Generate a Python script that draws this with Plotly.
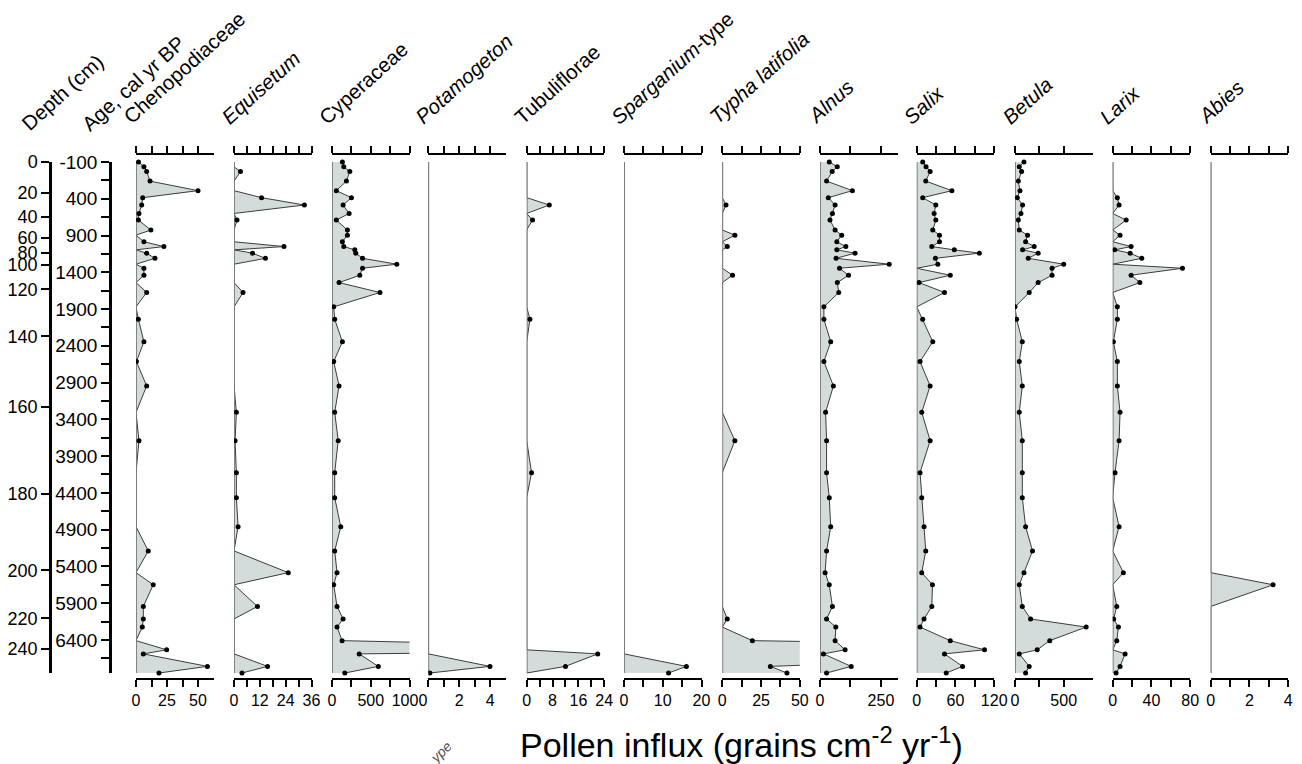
import plotly.graph_objects as go

# ---------------- data ----------------
AGES = [-100, -35, 30, 160, 290, 385, 485, 600, 690, 825, 895, 985, 1050, 1095,
        1140, 1210, 1290, 1345, 1440, 1540, 1675, 1870, 2040, 2345, 2615, 2945,
        3305, 3690, 4125, 4465, 4860, 5190, 5485, 5650, 5945, 6115, 6225, 6410,
        6535, 6590, 6760, 6850]

CHENOPODIACEAE = [2, 6.4, 8.6, 11.3, 50, 5.4, 4.6, 2.4, 1.9, 12, 0, 6.4, 22.5, 0,
                  8.6, 15.3, 0, 6.4, 6.4, 0, 8.6, 0, 1.9, 6.4, 0.3, 8.6, 0, 2.4,
                  0, 0, 0, 9.9, 0, 13.9, 5.9, 5.9, 5.1, 0, 24.7, 5.9, 57.6, 18.5]
EQUISETUM = [0, 0, 3.0, 0, 0, 12.8, 32.7, 0, 1.4, 0, 0, 0, 23.2, 0, 8.6, 14.6, 0,
             0, 0, 0, 4.2, 0, 0, 0, 0, 0, 1.1, 0.5, 1.1, 1.1, 1.9, 0, 25.2, 0,
             10.9, 0, 0, 0, 0, 0, 15.6, 3.7]
CYPERACEAE = [134, 152, 230, 186, 56, 251, 143, 221, 56, 199, 199, 134, 152, 294,
              307, 394, 836, 394, 359, 91, 619, 22, 35, 134, 22, 91, 35, 80, 35,
              35, 113, 35, 65, 22, 65, 143, 65, 130, 5500, 351, 598, 165]
POTAMOGETON = [0] * 40 + [3.98, 0.1]
TUBULIFLORAE = [0, 0, 0, 0, 0, 0, 7.0, 0, 1.8, 0, 0, 0, 0, 0, 0, 0, 0, 0, 0, 0,
                0, 0, 1.0, 0, 0, 0, 0, 0, 1.5, 0, 0, 0, 0, 0, 0, 0, 0, 0, 0, 22,
                12, 0]
SPARGANIUM = [0] * 40 + [16.1, 11.5]
TYPHA = [0, 0, 0, 0, 0, 0, 2.4, 0, 0, 0, 8.1, 0, 3.2, 0, 0, 0, 0, 0, 6.6, 0, 0,
         0, 0, 0, 0, 0, 0, 8.1, 0, 0, 0, 0, 0, 0, 0, 3.2, 0, 19.4, 400, 250, 31,
         41.7]
ALNUS = [38, 71, 50, 27, 133, 34, 62, 51, 41, 62, 89, 69, 106, 69, 144, 66, 284,
         80, 117, 71, 77, 16, 16, 44, 16, 55, 23, 27, 27, 38, 44, 27, 21, 38, 51,
         27, 65, 62, 103, 14, 128, 27]
SALIX = [9.3, 14.5, 20.8, 14, 54.5, 9.3, 29.6, 27, 29.6, 24.9, 35.3, 35.3, 23.4,
         58.2, 97, 29, 32.7, 0, 52, 3.6, 43, 0, 9.3, 24.9, 5.2, 20.8, 7.8, 20.8,
         5.2, 7.8, 11.4, 14, 7.8, 24.4, 23.4, 11.4, 5.2, 52, 105, 43, 71, 45.7]
BETULA = [92, 44, 68, 34, 51, 24, 78, 61, 34, 44, 129, 109, 197, 78, 238, 136,
          500, 381, 381, 238, 146, 1, 17, 75, 44, 75, 44, 75, 75, 75, 109, 180,
          92, 44, 75, 160, 731, 357, 228, 44, 146, 109]
LARIX = [0, 0, 0, 0, 0, 4.8, 6.6, 0, 13.9, 0, 7.6, 0, 19, 2, 18, 30, 0, 72, 19,
         28, 0, 4.8, 4.8, 0.7, 4.8, 4.8, 7.6, 6.6, 2.4, 0, 6.6, 0, 11, 0, 4.2, 1,
         5.9, 4.2, 0, 12.8, 7.6, 3.5]
ABIES = [0] * 33 + [3.22] + [0] * 8

TAXA = ['Chenopodiaceae', '<i>Equisetum</i>', 'Cyperaceae', '<i>Potamogeton</i>',
        'Tubuliflorae', '<i>Sparganium</i>-type', '<i>Typha latifolia</i>',
        '<i>Alnus</i>', '<i>Salix</i>', '<i>Betula</i>', '<i>Larix</i>', '<i>Abies</i>']
SERIES = [CHENOPODIACEAE, EQUISETUM, CYPERACEAE, POTAMOGETON, TUBULIFLORAE,
          SPARGANIUM, TYPHA, ALNUS, SALIX, BETULA, LARIX, ABIES]

X_MAX = [62.5, 36, 1000, 5, 24, 20, 50, 318, 120, 796, 80, 4]
# labelled ticks
X_TICKVALS = [[0, 25, 50], [0, 12, 24, 36], [0, 500, 1000], [2, 4],
              [0, 8, 16, 24], [0, 10, 20], [0, 25, 50], [0, 250], [0, 60, 120],
              [0, 500], [0, 40, 80], [0, 2, 4]]
X_TICKTEXT = [['0', '25', '50'], ['0', '12', '24', '36'], ['0', '500', '1000'],
              ['2', '4'], ['0', '8', '16', '24'], ['0', '10', '20'],
              ['0', '25', '50'], ['0', '250'], ['0', '60', '120'], ['0', '500'],
              ['0', '40', '80'], ['0', '2', '4']]
# unlabelled ticks
X_MINOR = [[12.5, 37.5], [6, 18, 30], [250, 750], [0, 1, 3], [4, 12, 20],
           [5, 15], [12.5, 37.5], [125], [30, 90], [250], [20, 60], [1, 3]]

DEPTH_LABELS = ['0', '20', '40', '60', '80', '100', '120', '140', '160', '180',
                '200', '220', '240']
DEPTH_TICK_AGES = [-100, 320, 645, 930, 1133, 1296, 1634, 2271, 3233, 4412,
                   5455, 6106, 6526]
AGE_TICKS = [-100, 400, 900, 1400, 1900, 2400, 2900, 3400, 3900, 4400, 4900,
             5400, 5900, 6400]
AGE_LABELS = ['-100', '400', '900', '1400', '1900', '2400', '2900', '3400',
              '3900', '4400', '4900', '5400', '5900', '6400']
AGE_MINOR = [150, 650, 1150, 1650, 2150, 2650, 3150, 3650, 4150, 4650, 5150,
             5650, 6150, 6650]

# ---------------- layout geometry ----------------
W, H = 1302, 764
PANEL_LEFT = [136, 234, 332, 428.3, 526.7, 624, 722.3, 820, 916.7, 1015, 1112.7, 1210.7]
PANEL_W = 77.5
Y_TOP_PX, Y_BOT_PX = 155, 678
DATA_TOP_PX, DATA_BOT_PX = 162, 673
AGE_TOP, AGE_BOT = -100, 6850
k = (DATA_BOT_PX - DATA_TOP_PX) / (AGE_BOT - AGE_TOP)
yr_top = AGE_TOP - (DATA_TOP_PX - Y_TOP_PX) / k
yr_bot = AGE_BOT + (Y_BOT_PX - DATA_BOT_PX) / k

FONT = 'Arial, Liberation Sans, Helvetica, sans-serif'
FILL = 'rgb(212,219,219)'
OUTLINE = 'rgb(60,60,60)'
BASE = 'rgb(120,120,120)'


def py(p):
    return (H - p) / H


fig = go.Figure()

for i, vals in enumerate(SERIES):
    xa = 'x' if i == 0 else f'x{i + 1}'
    fig.add_trace(go.Scatter(x=vals, y=AGES, mode='lines', fill='tozerox',
                             fillcolor=FILL, line=dict(color=OUTLINE, width=1),
                             xaxis=xa, yaxis='y', hoverinfo='skip', showlegend=False))
    fig.add_trace(go.Scatter(x=[0, 0], y=[AGES[0], AGES[-1]], mode='lines',
                             line=dict(color=BASE, width=1.8),
                             xaxis=xa, yaxis='y', hoverinfo='skip', showlegend=False))
    mx = [v for v in vals if v > 0]
    my = [a for a, v in zip(AGES, vals) if v > 0]
    fig.add_trace(go.Scatter(x=mx, y=my, mode='markers',
                             marker=dict(color='black', size=5),
                             xaxis=xa, yaxis='y', hoverinfo='skip', showlegend=False))

    key = 'xaxis' if i == 0 else f'xaxis{i + 1}'
    left = PANEL_LEFT[i]
    fig.update_layout({key: dict(
        domain=[left / W, (left + PANEL_W) / W], range=[0, X_MAX[i]], anchor='y',
        showline=True, linecolor='black', linewidth=2, mirror='ticks',
        ticks='outside', ticklen=7, tickwidth=1.6, tickcolor='black',
        tickmode='array', tickvals=X_TICKVALS[i], ticktext=X_TICKTEXT[i],
        tickangle=0, automargin=False,
        minor=dict(tickmode='array', tickvals=X_MINOR[i], ticks='outside',
                   ticklen=7, tickwidth=1.6, tickcolor='black', showgrid=False),
        tickfont=dict(family=FONT, size=16, color='black'),
        showgrid=False, zeroline=False, fixedrange=True)})

# dummy traces to carry the depth and age axes
fig.add_trace(go.Scatter(x=[0], y=[AGE_TOP], mode='markers', marker=dict(opacity=0),
                         xaxis='x13', yaxis='y2', hoverinfo='skip', showlegend=False))
fig.add_trace(go.Scatter(x=[0], y=[AGE_TOP], mode='markers', marker=dict(opacity=0),
                         xaxis='x13', yaxis='y3', hoverinfo='skip', showlegend=False))

left_axis_common = dict(
    domain=[py(DATA_BOT_PX), py(DATA_TOP_PX)], range=[AGE_BOT, AGE_TOP],
    anchor='free', side='left', showline=True, linecolor='black', linewidth=2.5,
    ticks='outside', ticklen=8, tickwidth=2, tickcolor='black', showgrid=False,
    zeroline=False, fixedrange=True, tickmode='array', automargin=False)

fig.update_layout(
    width=W, height=H, autosize=False,
    margin=dict(l=0, r=0, t=0, b=0, pad=0, autoexpand=False),
    paper_bgcolor='white', plot_bgcolor='rgba(0,0,0,0)',
    font=dict(family=FONT, color='black'),
    showlegend=False,
    yaxis=dict(domain=[py(Y_BOT_PX), py(Y_TOP_PX)], range=[yr_bot, yr_top],
               visible=False, fixedrange=True, anchor='x', automargin=False),
    xaxis13=dict(domain=[0, 0.05], visible=False, anchor='y2', range=[0, 1],
                 automargin=False),
    yaxis2=dict(left_axis_common, position=50 / W, tickvals=DEPTH_TICK_AGES,
                ticktext=DEPTH_LABELS, tickfont=dict(family=FONT, size=18)),
    yaxis3=dict(left_axis_common, position=110 / W, tickvals=AGE_TICKS,
                ticktext=AGE_LABELS, tickfont=dict(family=FONT, size=19),
                minor=dict(tickmode='array', tickvals=AGE_MINOR, ticks='outside',
                           ticklen=8, tickwidth=2, tickcolor='black')),
)

annotations = []
HDR_FS = 20.5
HDR_ANGLE = -42
for i, name in enumerate(TAXA):
    annotations.append(dict(
        text=name, x=(PANEL_LEFT[i] - 20) / W, y=py(131), xref='paper', yref='paper',
        xanchor='left', yanchor='bottom', textangle=HDR_ANGLE, showarrow=False,
        font=dict(family=FONT, size=HDR_FS, color='black')))
annotations.append(dict(text='Depth (cm)', x=(23 - 9) / W, y=py(138), xref='paper',
                        yref='paper', xanchor='left', yanchor='bottom',
                        textangle=HDR_ANGLE, showarrow=False,
                        font=dict(family=FONT, size=HDR_FS)))
annotations.append(dict(text='Age, cal yr BP', x=(83 - 9) / W, y=py(138), xref='paper',
                        yref='paper', xanchor='left', yanchor='bottom',
                        textangle=HDR_ANGLE, showarrow=False,
                        font=dict(family=FONT, size=HDR_FS)))
annotations.append(dict(text='Pollen influx (grains cm<sup>-2</sup> yr<sup>-1</sup>)',
                        x=741 / W, y=py(742), xref='paper', yref='paper',
                        xanchor='center', yanchor='middle', showarrow=False,
                        font=dict(family=FONT, size=34, color='black')))
annotations.append(dict(text='<i>ype</i>', x=441 / W, y=py(752), xref='paper',
                        yref='paper', xanchor='center', yanchor='middle',
                        textangle=-45, showarrow=False,
                        font=dict(family=FONT, size=14, color='rgb(80,80,80)')))
fig.update_layout(annotations=annotations)

fig.write_html('out.html')
